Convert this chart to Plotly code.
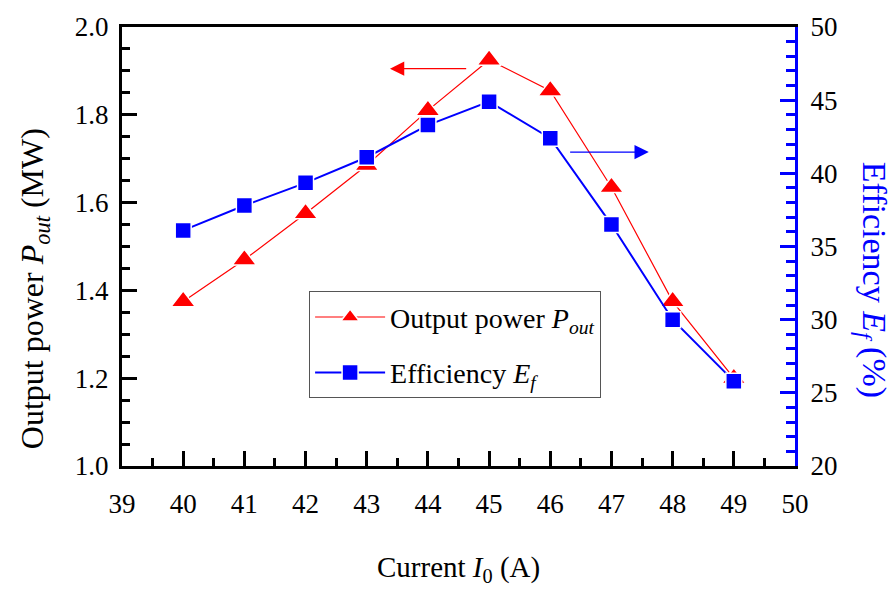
import plotly.graph_objects as go

current = [40, 41, 42, 43, 44, 45, 46, 47, 48, 49]
power_mw = [1.375, 1.47, 1.575, 1.685, 1.81, 1.925, 1.855, 1.635, 1.375, 1.20]
efficiency = [36.1, 37.8, 39.35, 41.1, 43.3, 44.9, 42.4, 36.5, 30.0, 25.8]

FONT = "Liberation Serif"
RED = "#ff0000"
BLUE = "#0000ff"

fig = go.Figure()
fig.add_trace(go.Scatter(
    x=current, y=power_mw, mode="lines+markers",
    name="Output power <i>P</i><sub><i>out</i></sub>",
    line=dict(color=RED, width=1.2),
    marker=dict(symbol="triangle-up", size=21, color=RED,
                line=dict(color="white", width=1.5)),
    legendgroup="a", yaxis="y"))
fig.add_trace(go.Scatter(
    x=current, y=efficiency, mode="lines+markers",
    name="Efficiency <i>E</i><sub><i>f</i></sub>",
    line=dict(color=BLUE, width=2),
    marker=dict(symbol="square", size=16, color=BLUE,
                line=dict(color="white", width=1.5)),
    legendgroup="b", yaxis="y2"))

tf = dict(family=FONT, size=27, color="black")
common = dict(ticks="inside", ticklen=15, tickwidth=2.5, showgrid=False,
              zeroline=False, showline=True, linewidth=3, tickfont=tf)

fig.update_layout(
    width=892, height=592,
    margin=dict(l=122, r=97, t=24, b=126),
    paper_bgcolor="white", plot_bgcolor="white",
    font=dict(family=FONT, size=27, color="black"),
    showlegend=True,
    xaxis=dict(range=[39, 50], dtick=1, tick0=39, linecolor="black",
               tickcolor="black", mirror=True, ticklabelstandoff=12,
               minor=dict(ticks="inside", dtick=0.5, ticklen=8, tickwidth=2.5,
                          tickcolor="black"),
               **common),
    yaxis=dict(range=[1.0, 2.0], dtick=0.2, tick0=1.0, tickformat=".1f",
               linecolor="black", tickcolor="black", ticklabelstandoff=5,
               minor=dict(ticks="inside", dtick=0.05, ticklen=8, tickwidth=2.5,
                          tickcolor="black"),
               **common),
    yaxis2=dict(range=[20, 50], dtick=5, tick0=20, overlaying="y", side="right",
                linecolor=BLUE, tickcolor=BLUE, ticklabelstandoff=7,
                minor=dict(ticks="inside", dtick=1, ticklen=9, tickwidth=2.5,
                           tickcolor=BLUE),
                **common),
    legend=dict(x=0.278, y=0.398, xanchor="left", yanchor="top",
                bordercolor="#555555", borderwidth=1, bgcolor="white",
                font=dict(family=FONT, size=28, color="black"),
                itemwidth=70, tracegroupgap=16, traceorder="grouped"),
    annotations=[
        dict(text="Output power <i>P</i><sub><i>out</i></sub> (MW)", xref="paper", yref="paper",
             x=-0.13, y=0.404, textangle=-90, showarrow=False,
             font=dict(family=FONT, size=32, color="black"),
             xanchor="center", yanchor="middle"),
        dict(text="Efficiency <i>E</i><sub><i>f</i></sub> (%)", xref="paper", yref="paper",
             x=1.114, y=0.425, textangle=90, showarrow=False,
             font=dict(family=FONT, size=34, color=BLUE),
             xanchor="center", yanchor="middle"),
        dict(text="Current <i>I</i><sub>0</sub> (A)", xref="paper", yref="paper",
             x=0.5, y=-0.235, showarrow=False,
             font=dict(family=FONT, size=29, color="black"),
             xanchor="center", yanchor="middle"),
        dict(x=43.38, y=1.905, ax=44.65, ay=1.905, xref="x", yref="y",
             axref="x", ayref="y", showarrow=True, arrowhead=2, arrowsize=2.2,
             arrowwidth=1.3, arrowcolor=RED, text=""),
        dict(x=47.61, y=41.45, ax=46.3, ay=41.45, xref="x", yref="y2",
             axref="x", ayref="y2", showarrow=True, arrowhead=2, arrowsize=2.2,
             arrowwidth=1.3, arrowcolor=BLUE, text=""),
    ],
)

fig.write_html("out.html")
